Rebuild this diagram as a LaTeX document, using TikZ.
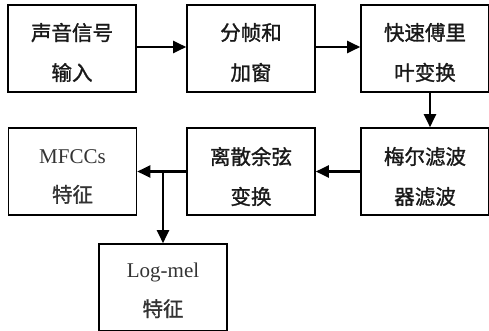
\documentclass[tikz,border=0pt]{standalone}
\usepackage{fontspec}
\setmainfont{Liberation Serif}
\newfontfamily\cjk[FakeBold=1.3]{Noto Sans CJK SC}
\usetikzlibrary{arrows.meta}
\tikzset{
  box/.style={draw=black, line width=1.6pt, minimum width=128pt, minimum height=87pt, inner sep=0pt},
  zh/.style={align=center, text=black!90, font=\cjk\fontsize{20.5}{40}\selectfont},
  mix/.style={align=center, text=black!80, font=\fontsize{21}{39}\selectfont},
  flow/.style={line width=2.2pt, -{Triangle[length=13pt,width=12pt]}}
}
\begin{document}
\begin{tikzpicture}[x=1pt,y=-1pt]
\useasboundingbox (0,0) rectangle (489,331);
% boxes
\node[box] (a) at (72,48.5) {};
\node[box] (b) at (251,48.5) {};
\node[box] (c) at (425,48.5) {};
\node[box] (f) at (425,171.5) {};
\node[box] (e) at (251,171.5) {};
\node[box] (d) at (72.5,171.5) {};
\node[box] (g) at (163,287.5) {};
% texts
\node[zh] (ta) at ([yshift=-4pt]a.center) {声音信号\\输入};
\node[zh] (tb) at ([yshift=-4pt]b.center) {分帧和\\加窗};
\node[zh] (tc) at ([yshift=-4pt]c.center) {快速傅里\\叶变换};
\node[zh] (tf) at ([yshift=-5pt]f.center) {梅尔滤波\\器滤波};
\node[zh] (te) at ([yshift=-5pt]e.center) {离散余弦\\变换};
\node[mix] (td) at ([yshift=-5pt]d.center) {MFCCs\\{\cjk\fontsize{20.5}{20}\selectfont 特征}};
\node[mix] (tg) at ([yshift=-3pt]g.center) {Log-mel\\{\cjk\fontsize{20.5}{20}\selectfont 特征}};
% connectors
\draw[flow] ([yshift=1.5pt]a.east) -- ([yshift=1.5pt]b.west);
\draw[flow] ([yshift=1.5pt]b.east) -- ([yshift=1.5pt]c.west);
\draw[flow] ([xshift=5pt]c.south) -- ([xshift=5pt]f.north);
\draw[flow] (f.west) -- (e.east);
\coordinate (j) at (g.north |- e.west);
\draw[flow] (e.west) -- (d.east);
\draw[flow] (j) -- (g.north);
\end{tikzpicture}
\end{document}
